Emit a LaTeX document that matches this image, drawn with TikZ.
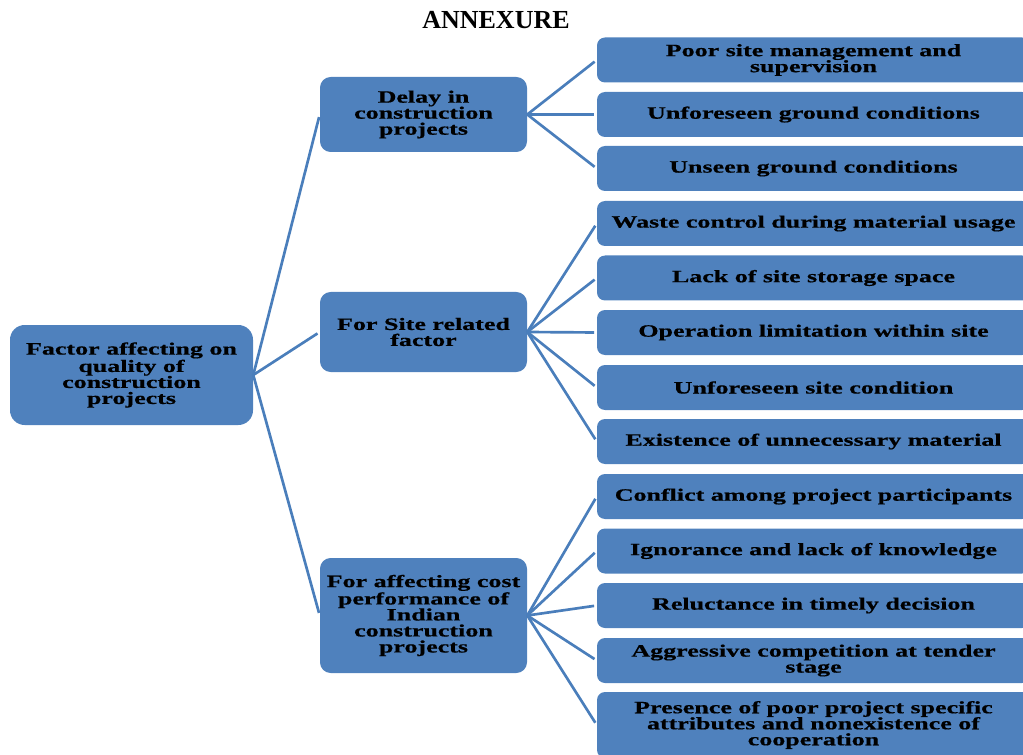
\documentclass[tikz,border=0pt]{standalone}
\usepackage{fontspec}
\usepackage{xcolor}
\usepackage{tikz}
\setmainfont{Liberation Serif}
\newfontfamily\boxfont{Liberation Serif}[FakeStretch=1.5, FakeBold=0.6]
\definecolor{boxblue}{HTML}{4F81BD}
\definecolor{lineblue}{HTML}{4A7EBB}
\tikzset{
  box/.style={shape=rectangle, fill=boxblue, rounded corners=6pt, inner sep=0pt,
    align=center, font=\boxfont\bfseries\fontsize{13}{12}\selectfont},
  rootbox/.style={box, rounded corners=11pt, minimum width=182.25pt, minimum height=75pt},
  midbox/.style={box, rounded corners=8pt, minimum width=155.25pt},
  leafbox/.style={box, minimum width=324.75pt, minimum height=33.75pt},
  link/.style={draw=lineblue, line width=2pt, shorten >=2pt}
}

\begin{document}
\begin{tikzpicture}[x=0.75pt, y=-0.75pt]
\clip (0,0) rectangle (1023,755);
\node at (496, 20) (title) {\fontsize{19.5}{20}\selectfont\bfseries ANNEXURE};

\node at (131.5, 375) [rootbox] (root) {Factor affecting on\\quality of\\construction\\projects};

\node at (423.5, 114.5) [midbox, minimum height=56.25pt] (delay) {Delay in\\construction\\projects};
\node at (423.5, 332) [midbox, minimum height=60pt] (site) {For Site related\\factor};
\node at (423.5, 615.5) [midbox, minimum height=86.25pt] (cost) {For affecting cost\\performance of\\Indian\\construction\\projects};

% delay causes
\node at (813.5, 60) [leafbox] (poor) {Poor site management and\\supervision};
\node at (813.5, 114.5) [leafbox] (unforeseen) {Unforeseen ground conditions};
\node at (813.5, 168.5) [leafbox] (unseen) {Unseen ground conditions};

% site factors
\node at (813.5, 223.5) [leafbox] (waste) {Waste control during material usage};
\node at (813.5, 278) [leafbox] (storage) {Lack of site storage space};
\node at (813.5, 332.5) [leafbox] (operation) {Operation limitation within site};
\node at (813.5, 387.5) [leafbox] (sitecond) {Unforeseen site condition};
\node at (813.5, 441.5) [leafbox] (material) {Existence of unnecessary material};

% cost factors
\node at (813.5, 496.5) [leafbox] (conflict) {Conflict among project participants};
\node at (813.5, 551) [leafbox] (ignorance) {Ignorance and lack of knowledge};
\node at (813.5, 605.5) [leafbox] (reluctance) {Reluctance in timely decision};
\node at (813.5, 660.5) [leafbox] (aggressive) {Aggressive competition at tender\\stage};
\node at (813.5, 725) [leafbox, minimum height=49.5pt] (presence) {Presence of poor project specific\\attributes and nonexistence of\\cooperation};

\draw [link] (root.east) to (delay.west);
\draw [link] (root.east) to (site.west);
\draw [link] (root.east) to (cost.west);

\draw [link] (delay.east) to (poor.west);
\draw [link] (delay.east) to (unforeseen.west);
\draw [link] (delay.east) to (unseen.west);

\draw [link] (site.east) to (waste.west);
\draw [link] (site.east) to (storage.west);
\draw [link] (site.east) to (operation.west);
\draw [link] (site.east) to (sitecond.west);
\draw [link] (site.east) to (material.west);

\draw [link] (cost.east) to (conflict.west);
\draw [link] (cost.east) to (ignorance.west);
\draw [link] (cost.east) to (reluctance.west);
\draw [link] (cost.east) to (aggressive.west);
\draw [link] (cost.east) to (presence.west);
\end{tikzpicture}
\end{document}
